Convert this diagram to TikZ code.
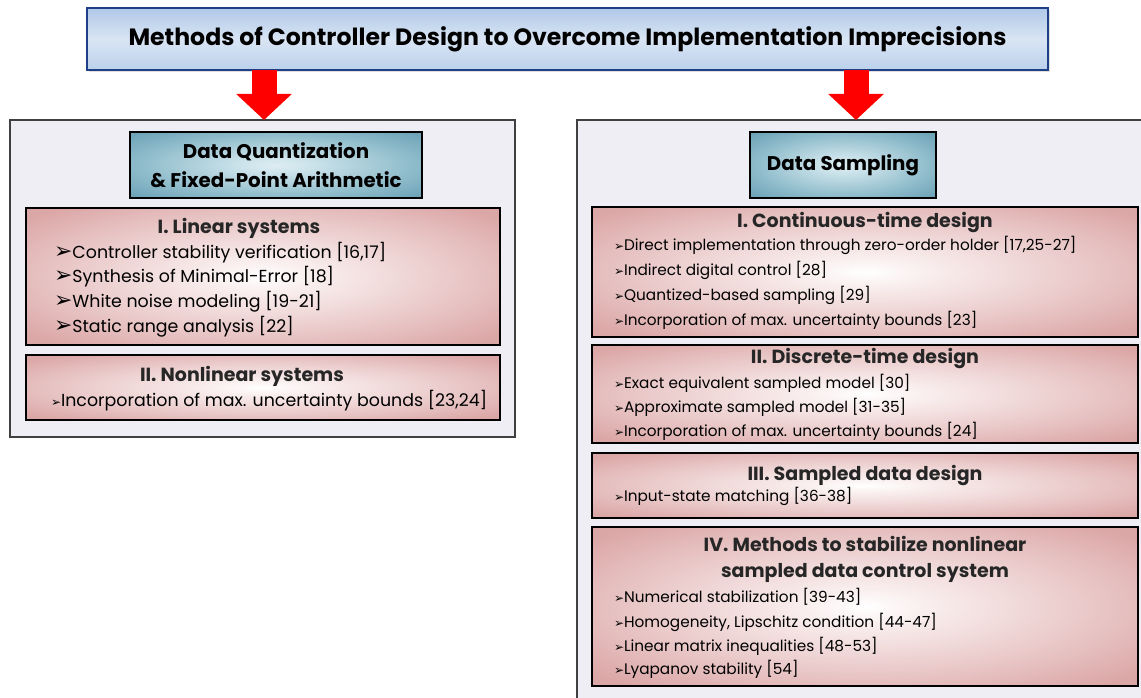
\documentclass[tikz,border=0pt]{standalone}
\usepackage{fontspec}
\setmainfont{Poppins}
\newfontfamily\bulletfont{DejaVu Sans}
\usetikzlibrary{arrows.meta,positioning,shadows}
\definecolor{titleblue}{HTML}{B0C8E8}
\definecolor{titlelight}{HTML}{D9E5F4}
\definecolor{titleline}{HTML}{1F3F86}
\definecolor{panelgray}{HTML}{EFEEF5}
\definecolor{arrowred}{HTML}{FF0000}
\pgfdeclareradialshading{pinkglow}{\pgfpoint{0bp}{0bp}}{rgb(0bp)=(1,1,1);rgb(5bp)=(0.98,0.94,0.94);rgb(22bp)=(0.91,0.77,0.77);rgb(33bp)=(0.86,0.65,0.65);rgb(72bp)=(0.85,0.63,0.63)}
\pgfdeclareradialshading{tealglow}{\pgfpoint{0bp}{0bp}}{rgb(0bp)=(0.87,0.93,0.95);rgb(6bp)=(0.80,0.89,0.92);rgb(24bp)=(0.55,0.73,0.79);rgb(34bp)=(0.43,0.64,0.72);rgb(72bp)=(0.41,0.62,0.70)}
\newcommand{\bul}{{\bulletfont\fontsize{22}{22}\selectfont\char"27A2}}
\newcommand{\sbul}{{\bulletfont\fontsize{12}{12}\selectfont\char"27A2}}

\begin{document}
\begin{tikzpicture}[x=1pt,y=-1pt]
        \tikzstyle{every node}=[inner sep=0pt,outer sep=0pt]
        \tikzset{mainbox/.style = {draw=titleline,line width=2.5pt,top color=titleblue,bottom color=titleblue!85!white,middle color=titlelight,drop shadow={opacity=0.25,shadow xshift=2pt,shadow yshift=-2pt}}}
        \tikzset{maintext/.style = {font=\bfseries\fontsize{23.6}{26}\selectfont}}
        \tikzset{panel/.style = {draw=black!75,line width=1.5pt,fill=panelgray,anchor=north west}}
        \tikzset{headbox/.style = {draw=black,line width=2.5pt,shade,shading=tealglow,align=center,font=\bfseries\fontsize{19.8}{29}\selectfont}}
        \tikzset{groupbox/.style = {draw=black,line width=2.5pt,shade,shading=pinkglow,anchor=north west}}
        \tikzset{grouptitle/.style = {align=center,text=black!85,font=\bfseries\fontsize{19}{26}\selectfont}}
        \tikzset{item/.style = {anchor=west,text=black,font=\fontsize{15.3}{24}\selectfont,text height=11pt,text depth=4pt}}
        \tikzset{bigitem/.style = {item,font=\fontsize{17.4}{24}\selectfont,text height=13pt,text depth=4pt}}
        \tikzset{bigarrow/.style = {draw=arrowred,line width=25pt,-{Triangle[width=54pt,length=26pt]}}}
        \useasboundingbox (0,0) rectangle (1141,698);
        % title
        \node[mainbox,minimum width=961pt,minimum height=62pt,anchor=north west] (title) at (87,8) {};
        \node[maintext] (titletext) at (title.center) {Methods of Controller Design to Overcome Implementation Imprecisions};
        % panels
        \node[panel,minimum width=505pt,minimum height=317pt] (panelL) at (10,120) {};
        \node[panel,minimum width=590pt,minimum height=600pt] (panelR) at (577,120) {};
        % arrows
        \coordinate (aL) at (264,0);
        \coordinate (aR) at (856,0);
        \draw[bigarrow] (title.south -| aL) -- (panelL.north -| aL);
        \draw[bigarrow] (title.south -| aR) -- (panelR.north -| aR);
        % headers
        \node[headbox,minimum width=292pt,minimum height=66pt,anchor=north west] (headL) at (130,132) {Data Quantization\\ \& Fixed-Point Arithmetic};
        \node[headbox,minimum width=186pt,minimum height=66pt,anchor=north west] (headR) at (750,132) {Data Sampling};
        % left groups
        \node[groupbox,minimum width=474pt,minimum height=137pt] (linear) at (26,208) {};
        \node[groupbox,minimum width=474pt,minimum height=65pt] (nonlinear) at (26,355) {};
        \node[grouptitle] (linearT) at (239,228) {I. Linear systems};
        \node[bigitem] (lin1) at (54,254) {\bul Controller stability verification [16,17]};
        \node[bigitem] (lin2) at (54,278) {\bul Synthesis of Minimal-Error [18]};
        \node[bigitem] (lin3) at (54,303) {\bul White noise modeling [19-21]};
        \node[bigitem] (lin4) at (54,328) {\bul Static range analysis [22]};
        \node[grouptitle] (nonlinearT) at (242,376) {II. Nonlinear systems};
        \node[bigitem] (nonlin1) at (51,402) {\sbul Incorporation of max. uncertainty bounds [23,24]};
        % right groups
        \node[groupbox,minimum width=546pt,minimum height=130pt] (cont) at (592,207) {};
        \node[groupbox,minimum width=546pt,minimum height=98pt] (disc) at (592,345) {};
        \node[groupbox,minimum width=546pt,minimum height=65pt] (sampled) at (592,453) {};
        \node[groupbox,minimum width=546pt,minimum height=159pt] (stab) at (592,527) {};
        \node[grouptitle] (contT) at (865,223) {I. Continuous-time design};
        \node[item] (cont1) at (614,247) {\sbul Direct implementation through zero-order holder [17,25-27]};
        \node[item] (cont2) at (614,272) {\sbul Indirect digital control [28]};
        \node[item] (cont3) at (614,297) {\sbul Quantized-based sampling [29]};
        \node[item] (cont4) at (614,322) {\sbul Incorporation of max. uncertainty bounds [23]};
        \node[grouptitle] (discT) at (865,359) {II. Discrete-time design};
        \node[item] (disc1) at (614,385) {\sbul Exact equivalent sampled model [30]};
        \node[item] (disc2) at (614,409) {\sbul Approximate sampled model [31-35]};
        \node[item] (disc3) at (614,433) {\sbul Incorporation of max. uncertainty bounds [24]};
        \node[grouptitle] (sampledT) at (865,475) {III. Sampled data design};
        \node[item] (sampled1) at (614,498) {\sbul Input-state matching [36-38]};
        \node[grouptitle] (stabT) at (865,559) {IV. Methods to stabilize nonlinear\\ sampled data control system};
        \node[item] (stab1) at (614,599) {\sbul Numerical stabilization [39-43]};
        \node[item] (stab2) at (614,624) {\sbul Homogeneity, Lipschitz condition [44-47]};
        \node[item] (stab3) at (614,648) {\sbul Linear matrix inequalities [48-53]};
        \node[item] (stab4) at (614,671) {\sbul Lyapanov stability [54]};
\end{tikzpicture}
\end{document}
